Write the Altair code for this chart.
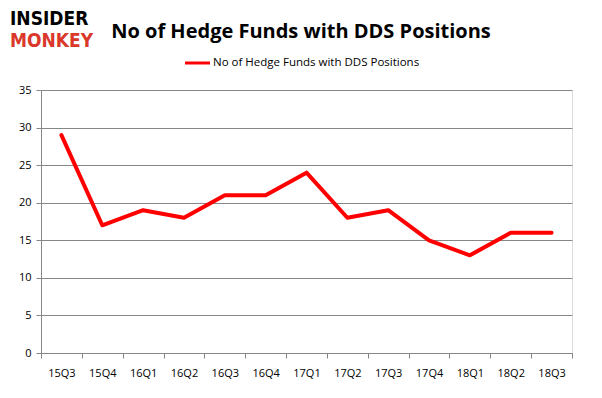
import altair as alt
import pandas as pd

quarters = ["15Q3", "15Q4", "16Q1", "16Q2", "16Q3", "16Q4", "17Q1",
            "17Q2", "17Q3", "17Q4", "18Q1", "18Q2", "18Q3"]
funds = [29, 17, 19, 18, 21, 21, 24, 18, 19, 15, 13, 16, 16]
title_text = "No of Hedge Funds with DDS Positions"
legend_text = "No of Hedge Funds with DDS Positions"
y_ticks = [0, 5, 10, 15, 20, 25, 30, 35]

df = pd.DataFrame({"quarter": quarters, "funds": funds})

FONT = "Open Sans"
W, H = 531, 263

line = alt.Chart(df).mark_line(color="#ff0000", strokeWidth=4, strokeCap="round", strokeJoin="round").encode(
    x=alt.X("quarter:N", sort=quarters, title=None,
            scale=alt.Scale(type="band", paddingInner=0, paddingOuter=0),
            axis=alt.Axis(tickBand="extent", labelAngle=0, grid=False, domainColor="#868686",
                          tickColor="#868686", tickSize=5, labelPadding=9, labelFontSize=11,
                          labelFont=FONT, labelColor="#000000")),
    y=alt.Y("funds:Q", title=None,
            scale=alt.Scale(domain=[0, 35], nice=False),
            axis=alt.Axis(values=y_ticks, grid=True, gridColor="#868686", domainColor="#868686",
                          tickColor="#868686", tickSize=5, labelPadding=5, labelFontSize=11,
                          labelFont=FONT, labelColor="#000000")),
)

def label(text, x, y, size, color="#000000", weight="normal", align="left", font=FONT, baseline="middle"):
    return alt.Chart(pd.DataFrame({"t": [text]})).mark_text(
        fontSize=size, color=color, fontWeight=weight, align=align, baseline=baseline, font=font
    ).encode(text="t:N", x=alt.value(x), y=alt.value(y))

title = label(title_text, 260, -52, 20, weight="bold", align="center", baseline="alphabetic")
logo1 = label("INSIDER", -31, -65, 19, weight="bold", font="DejaVu Sans Condensed", baseline="alphabetic")
logo2 = label("MONKEY", -31, -43, 19, color="#d9382a", weight="bold", font="DejaVu Sans Condensed",
              baseline="alphabetic")
leg_line = alt.Chart(pd.DataFrame({"a": [0]})).mark_rule(color="#ff0000", strokeWidth=3).encode(
    x=alt.value(144), x2=alt.value(169), y=alt.value(-27))
leg_text = label(legend_text, 172, -27, 11.5)

chart = alt.layer(line, title, logo1, logo2, leg_line, leg_text).properties(
    width=W, height=H,
    autosize=alt.AutoSizeParams(type="none"),
    padding={"left": 33, "top": 82, "right": 22, "bottom": 37},
).configure_view(stroke=None).configure(background="#ffffff")

chart.save("out.html", embed_options={"renderer": "svg", "actions": False})
